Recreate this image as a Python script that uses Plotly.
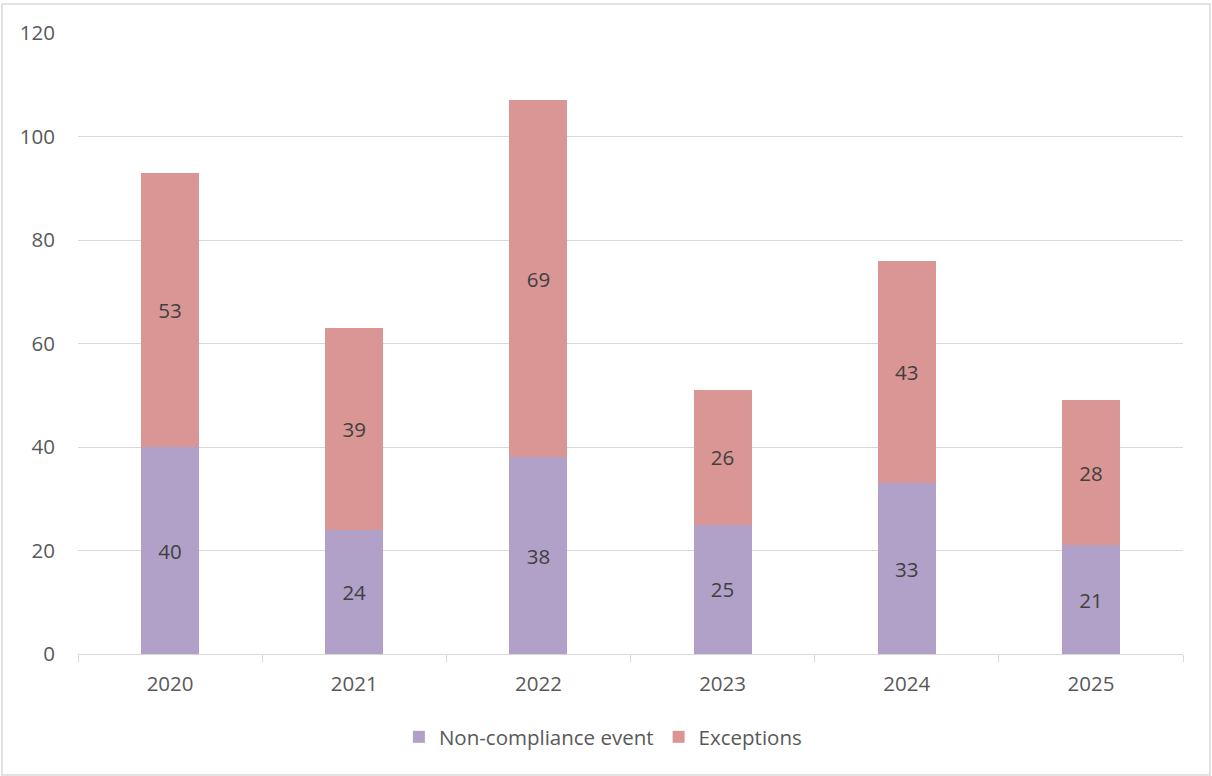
import plotly.graph_objects as go

years = ["2020", "2021", "2022", "2023", "2024", "2025"]
non_compliance = [40, 24, 38, 25, 33, 21]
exceptions = [53, 39, 69, 26, 43, 28]
y_ticks = [0, 20, 40, 60, 80, 100, 120]

FONT = "Open Sans"
TXT = "#595959"
FS = 20.5

W, H = 1212, 776
L, R, T, B = 78, 29, 33, 122
pw, ph = W - L - R, H - T - B

fig = go.Figure()
fig.add_trace(go.Bar(
    x=years, y=non_compliance, name="Non-compliance event",
    marker=dict(color="#b1a0c7", line=dict(width=0)),
    text=non_compliance, textposition="inside", insidetextanchor="middle",
    textfont=dict(color="#404040", size=FS, family=FONT),
))
fig.add_trace(go.Bar(
    x=years, y=exceptions, name="Exceptions",
    marker=dict(color="#da9694", line=dict(width=0)),
    text=exceptions, textposition="inside", insidetextanchor="middle",
    textfont=dict(color="#404040", size=FS, family=FONT),
))

def px_x(p):
    return (p - L) / pw

def px_y(p):
    return (H - B - p) / ph

fig.update_layout(
    width=W, height=H,
    barmode="stack", bargap=0.685,
    margin=dict(l=L, r=R, t=T, b=B, autoexpand=False),
    paper_bgcolor="white", plot_bgcolor="white",
    font=dict(family=FONT, size=FS, color=TXT),
    uniformtext=dict(mode="show", minsize=FS),
    xaxis=dict(
        type="category", range=[-0.5, 5.5],
        showline=True, linecolor="#d9d9d9", linewidth=1,
        ticks="outside", tickson="boundaries", ticklen=7, tickcolor="#d9d9d9",
        showgrid=False, tickfont=dict(size=FS, color=TXT, family=FONT),
        ticklabelstandoff=11,
    ),
    yaxis=dict(
        range=[0, 120], tickvals=y_ticks,
        showgrid=True, gridcolor="#d9d9d9", gridwidth=1,
        zeroline=False, showline=False, ticks="",
        tickfont=dict(size=FS, color=TXT, family=FONT),
        ticklabelstandoff=22,
    ),
    legend=dict(
        orientation="h", x=0.475, xanchor="center", y=px_y(737), yanchor="middle",
        font=dict(size=FS, color=TXT, family=FONT),
        itemsizing="constant", traceorder="normal",
    ),
    showlegend=True,
    shapes=[dict(
        type="rect", xref="paper", yref="paper",
        x0=px_x(2), x1=px_x(1210), y0=px_y(775), y1=px_y(4),
        line=dict(color="#d9d9d9", width=1.5), fillcolor="rgba(0,0,0,0)", layer="below",
    )],
)

fig.write_html("out.html")
